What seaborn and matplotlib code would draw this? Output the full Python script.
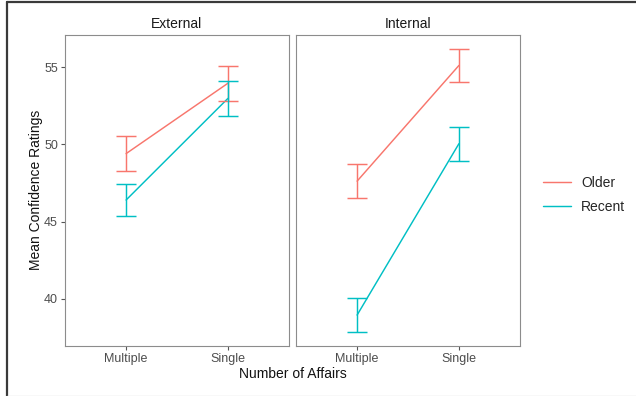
import numpy as np
import pandas as pd
import matplotlib
matplotlib.use("Agg")
import matplotlib.pyplot as plt
from matplotlib.lines import Line2D
import seaborn as sns

# data (mean +/- standard error)
affairs = ["Multiple", "Single"]
panels = ["External", "Internal"]
groups = ["Older", "Recent"]

ext_older_mean = [49.4, 53.95]
ext_older_se = [1.14, 1.12]
ext_recent_mean = [46.4, 52.97]
ext_recent_se = [1.06, 1.14]
int_older_mean = [47.62, 55.1]
int_older_se = [1.1, 1.05]
int_recent_mean = [38.96, 50.04]
int_recent_se = [1.1, 1.1]

palette = {"Older": "#F8766D", "Recent": "#00BFC4"}

rows = []
for panel, series in zip(panels, [
        [(ext_older_mean, ext_older_se), (ext_recent_mean, ext_recent_se)],
        [(int_older_mean, int_older_se), (int_recent_mean, int_recent_se)]]):
    for grp, (means, ses) in zip(groups, series):
        for a, m, s in zip(affairs, means, ses):
            rows.append({"panel": panel, "group": grp, "affairs": a, "mean": m, "se": s})
df = pd.DataFrame(rows)

sns.set_style("white")
plt.rcParams['font.family'] = ['Liberation Sans', 'DejaVu Sans']

W, H = 636, 396
fig = plt.figure(figsize=(W / 100, H / 100), dpi=100)
bottom = 1 - 346 / H
top = 1 - 35 / H
axes = [
    fig.add_axes([65 / W, bottom, (289 - 65) / W, top - bottom]),
    fig.add_axes([296 / W, bottom, (520 - 296) / W, top - bottom]),
]

for ax, panel in zip(axes, panels):
    sub = df[df["panel"] == panel].copy()
    sub["x"] = sub["affairs"].map({a: i for i, a in enumerate(affairs)})
    sns.lineplot(data=sub, x="x", y="mean", hue="group", palette=palette,
                 hue_order=groups, linewidth=1.05, ax=ax, legend=False,
                 errorbar=None, sort=True)
    for grp in groups:
        g = sub[sub["group"] == grp]
        ax.errorbar(g["x"], g["mean"], yerr=g["se"], fmt="none",
                    ecolor=palette[grp], elinewidth=1.05, capsize=7.2,
                    capthick=1.05)
    ax.set_xlim(-0.6, 1.6)
    ax.set_ylim(36.96, 57.07)
    ax.set_xticks(range(len(affairs)))
    ax.set_xticklabels(affairs)
    ax.set_yticks([40, 45, 50, 55])
    ax.set_xlabel("")
    ax.set_ylabel("")
    for sp in ax.spines.values():
        sp.set_color("#8C8C8C")
        sp.set_linewidth(0.8)
    ax.tick_params(axis="both", length=3, width=0.8, color="#555555",
                   labelcolor="#4D4D4D", labelsize=9, pad=2,
                   bottom=True, left=True)
    ax.set_title(panel, fontsize=10, color="#1A1A1A", pad=5)

axes[1].tick_params(axis="y", left=False, labelleft=False)

fig.text((65 + 520) / 2 / W, 1 - 374 / H, "Number of Affairs", ha="center",
         va="center", fontsize=10, color="#111111")
fig.text(36 / W, 1 - 190 / H, "Mean Confidence Ratings", ha="center",
         va="center", rotation=90, fontsize=10, color="#111111")

handles = [Line2D([], [], color=palette[g], lw=1.05) for g in groups]
fig.legend(handles, groups, loc="center left",
           bbox_to_anchor=(543 / W, 1 - 195 / H), frameon=False,
           borderpad=0, borderaxespad=0,
           fontsize=10, handlelength=2.0, handletextpad=0.75, labelspacing=0.75)

# screenshot frame
fig.add_artist(Line2D([7 / W, 7 / W], [0, 1 - 1.5 / H], transform=fig.transFigure,
                      color="#3A3A3A", lw=1.6))
fig.add_artist(Line2D([7 / W, 1], [1 - 1.5 / H, 1 - 1.5 / H], transform=fig.transFigure,
                      color="#3A3A3A", lw=1.6))
fig.add_artist(Line2D([7 / W, 1], [0.5 / H, 0.5 / H], transform=fig.transFigure,
                      color="#DDDDDD", lw=1.0))

fig.savefig("out.png", dpi=100)
